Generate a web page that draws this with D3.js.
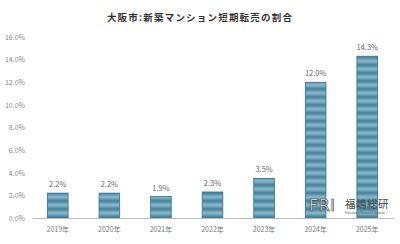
<!DOCTYPE html>
<html>
<head>
<meta charset="utf-8">
<script src="https://cdn.jsdelivr.net/npm/d3@7"></script>
<style>
  body { margin: 0; background: #fff; }
  svg { display: block; }
</style>
</head>
<body>
<svg id="chart" width="400" height="244"></svg>
<script>
var years = ["2019年", "2020年", "2021年", "2022年", "2023年", "2024年", "2025年"];
var rates = [2.2, 2.2, 1.9, 2.3, 3.5, 12.0, 14.3];
var yTicks = [0, 2, 4, 6, 8, 10, 12, 14, 16];

var width = 400, height = 244;
var margin = {top: 37, right: 7, bottom: 26, left: 32};
var font = "'Noto Sans CJK JP', 'Noto Sans', sans-serif";

var svg = d3.select("#chart");

// striped fill for bars
var defs = svg.append("defs");
var grad = defs.append("linearGradient")
    .attr("id", "stripeGrad")
    .attr("x1", 0).attr("y1", 0).attr("x2", 0).attr("y2", 1);
grad.append("stop").attr("offset", "0%").attr("stop-color", "#447f99");
grad.append("stop").attr("offset", "50%").attr("stop-color", "#8bbbd0");
grad.append("stop").attr("offset", "100%").attr("stop-color", "#447f99");
var pat = defs.append("pattern")
    .attr("id", "stripes")
    .attr("patternUnits", "userSpaceOnUse")
    .attr("x", 0).attr("y", 1)
    .attr("width", 10).attr("height", 8);
pat.append("rect").attr("width", 10).attr("height", 8).attr("fill", "url(#stripeGrad)");

var x = d3.scaleBand()
    .domain(years)
    .range([margin.left, width - margin.right])
    .paddingInner(0.6)
    .paddingOuter(0.3);

var y = d3.scaleLinear()
    .domain([0, 16])
    .range([height - margin.bottom, margin.top]);

// title
svg.append("text")
    .attr("x", 200)
    .attr("y", 21)
    .attr("text-anchor", "middle")
    .attr("font-family", font)
    .attr("font-size", 9.5)
    .attr("font-weight", "bold")
    .attr("letter-spacing", 1.2)
    .attr("fill", "#333")
    .text("大阪市:新築マンション短期転売の割合");

// y axis labels
var yAxis = d3.axisLeft(y)
    .tickValues(yTicks)
    .tickSize(0)
    .tickPadding(5)
    .tickFormat(function(d){ return d.toFixed(1) + "%"; });
var yg = svg.append("g")
    .attr("transform", "translate(" + (margin.left - 2) + ",0)")
    .call(yAxis);
yg.select(".domain").remove();
yg.selectAll("text")
    .attr("font-family", font)
    .attr("font-size", 7)
    .attr("fill", "#888");

// bars
svg.append("g").selectAll("rect")
    .data(rates)
    .join("rect")
    .attr("x", function(d, i){ return x(years[i]); })
    .attr("y", function(d){ return y(d); })
    .attr("width", x.bandwidth())
    .attr("height", function(d){ return y(0) - y(d); })
    .attr("fill", "url(#stripes)")
    .attr("stroke", "#33718b")
    .attr("stroke-width", 0.8);

// value labels
svg.append("g").selectAll("text")
    .data(rates)
    .join("text")
    .attr("x", function(d, i){ return x(years[i]) + x.bandwidth() / 2; })
    .attr("y", function(d){ return y(d) - 6; })
    .attr("text-anchor", "middle")
    .attr("font-family", font)
    .attr("font-size", 7.5)
    .attr("fill", "#666")
    .text(function(d){ return d.toFixed(1) + "%"; });

// x axis
var xAxis = d3.axisBottom(x).tickSize(0).tickPadding(9);
var xg = svg.append("g")
    .attr("transform", "translate(0," + y(0) + ")")
    .call(xAxis);
xg.select(".domain").attr("stroke", "#bbb").attr("stroke-width", 1);
xg.selectAll("text")
    .attr("font-family", font)
    .attr("font-size", 7)
    .attr("fill", "#777");

// logo
var logo = svg.append("g").attr("transform", "translate(309,211)");
logo.append("text")
    .attr("x", 0).attr("y", 0)
    .attr("font-family", "'DejaVu Sans', sans-serif")
    .attr("font-size", 16)
    .attr("letter-spacing", 0.5)
    .attr("fill", "#fff")
    .attr("stroke", "#444")
    .attr("stroke-width", 0.7)
    .text("FRI");
logo.append("text")
    .attr("x", 36).attr("y", -3)
    .attr("font-family", font)
    .attr("font-size", 10.5)
    .attr("fill", "#444")
    .attr("letter-spacing", 0.5)
    .text("福嶋総研");
logo.append("text")
    .attr("x", 36).attr("y", 3)
    .attr("font-family", "'Liberation Sans', sans-serif")
    .attr("font-size", 3)
    .attr("fill", "#555")
    .text("Fukushima Research Institute");
</script>
</body>
</html>
